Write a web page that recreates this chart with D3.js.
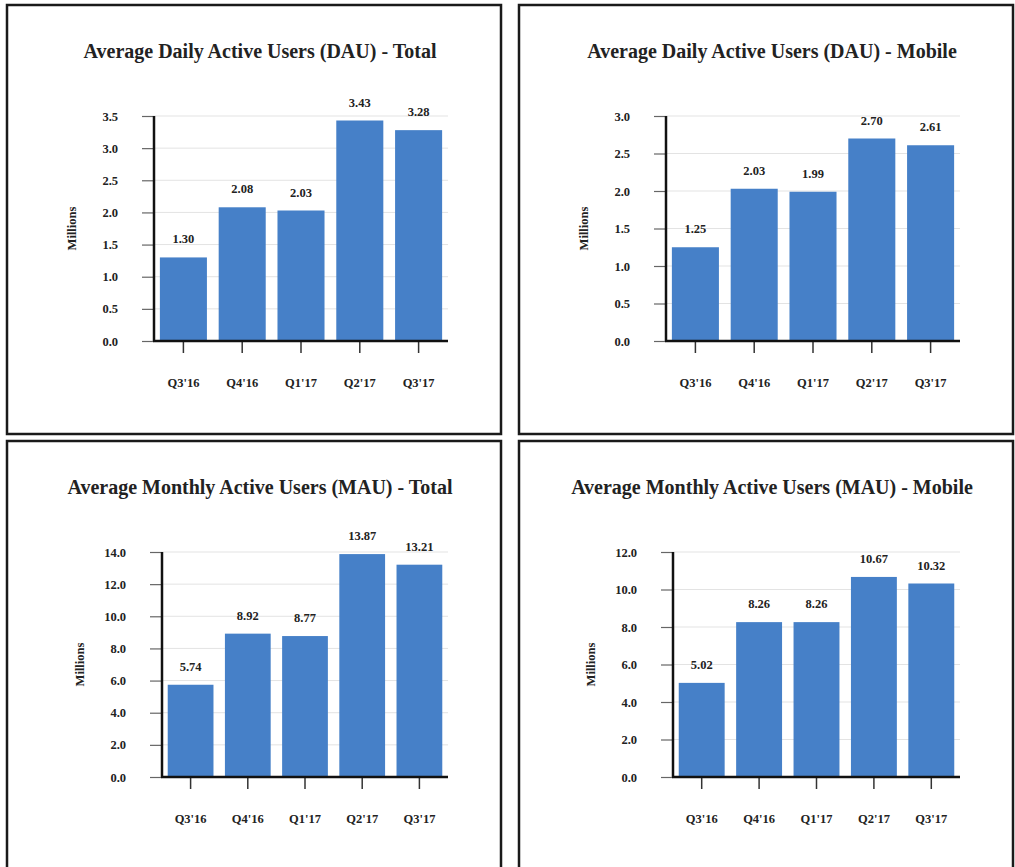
<html>
<head>
    <title>active users</title>
    <script src="https://cdn.jsdelivr.net/npm/d3@7"></script>
</head>
<body style="margin: 0; background: #fff;">
    <svg id="chart"></svg>
</body>
<script>
const width = 1015;
const height = 867;

// data
const quarters = ["Q3'16", "Q4'16", "Q1'17", "Q2'17", "Q3'17"];
const dauTotal = [1.30, 2.08, 2.03, 3.43, 3.28];
const dauMobile = [1.25, 2.03, 1.99, 2.70, 2.61];
const mauTotal = [5.74, 8.92, 8.77, 13.87, 13.21];
const mauMobile = [5.02, 8.26, 8.26, 10.67, 10.32];
const titles = [
    "Average Daily Active Users (DAU) - Total",
    "Average Daily Active Users (DAU) - Mobile",
    "Average Monthly Active Users (MAU) - Total",
    "Average Monthly Active Users (MAU) - Mobile",
];
const yTicks = [
    [0, 0.5, 1.0, 1.5, 2.0, 2.5, 3.0, 3.5],
    [0, 0.5, 1.0, 1.5, 2.0, 2.5, 3.0],
    [0, 2, 4, 6, 8, 10, 12, 14],
    [0, 2, 4, 6, 8, 10, 12],
];
const yLabel = "Millions";
const series = [dauTotal, dauMobile, mauTotal, mauMobile];

// panel layout: origin + inner left edge of plot
const panels = [
    {x: 7, y: 5, h: 429, left: 147},
    {x: 519, y: 5, h: 429, left: 147},
    {x: 7, y: 441, h: 440, left: 155},
    {x: 519, y: 441, h: 440, left: 154},
];
const pw = 494;
const plotTop = 111, plotBottom = 336, plotRight = 441;
const font = "'Liberation Serif', 'Times New Roman', serif";
const blue = "#4680c8";

const svg = d3.select("#chart")
    .attr("width", width)
    .attr("height", height)
    .style("font-family", font);

panels.forEach((p, i) => {
    const g = svg.append("g").attr("transform", `translate(${p.x},${p.y})`);
    const vals = series[i];
    const ticks = yTicks[i];

    const x = d3.scaleBand()
        .domain(quarters)
        .range([p.left, plotRight])
        .paddingInner(0.2)
        .paddingOuter(0.1);
    const y = d3.scaleLinear()
        .domain([0, ticks[ticks.length - 1]])
        .range([plotBottom, plotTop]);

    g.append("rect")
        .attr("x", 0).attr("y", 0)
        .attr("width", pw).attr("height", p.h)
        .attr("fill", "#fff")
        .attr("stroke", "#1a1a1a")
        .attr("stroke-width", 2.5);

    g.append("text")
        .attr("x", 253).attr("y", 53)
        .attr("text-anchor", "middle")
        .attr("font-size", 20)
        .attr("font-weight", "bold")
        .attr("fill", "#222")
        .text(titles[i]);

    // grid lines
    g.append("g")
        .selectAll("line")
        .data(ticks.slice(1))
        .join("line")
            .attr("x1", p.left).attr("x2", plotRight)
            .attr("y1", d => y(d)).attr("y2", d => y(d))
            .attr("stroke", "#e3e3e3")
            .attr("stroke-width", 1);

    // y axis with outward ticks
    const yAxis = g.append("g")
        .attr("transform", `translate(${p.left},0)`)
        .call(d3.axisLeft(y).tickValues(ticks).tickFormat(d3.format(".1f")).tickSize(12).tickPadding(24));
    yAxis.select(".domain").remove();
    yAxis.selectAll(".tick line").attr("stroke", "#666").attr("stroke-width", 1.2);
    yAxis.selectAll(".tick text")
        .attr("font-family", font)
        .attr("font-size", 12.5)
        .attr("font-weight", "bold")
        .attr("fill", "#222");

    g.selectAll(".bar")
        .data(vals)
        .join("rect")
            .attr("class", "bar")
            .attr("x", (d, j) => x(quarters[j]))
            .attr("y", d => y(d))
            .attr("width", x.bandwidth())
            .attr("height", d => y(0) - y(d))
            .attr("fill", blue);

    g.selectAll(".val")
        .data(vals)
        .join("text")
            .attr("class", "val")
            .attr("x", (d, j) => x(quarters[j]) + x.bandwidth() / 2)
            .attr("y", d => y(d) - 14)
            .attr("text-anchor", "middle")
            .attr("font-size", 12.5)
            .attr("font-weight", "bold")
            .attr("fill", "#222")
            .text(d => d3.format(".2f")(d));

    // x axis
    const xAxis = g.append("g")
        .attr("transform", `translate(0,${plotBottom})`)
        .call(d3.axisBottom(x).tickSize(12).tickPadding(25));
    xAxis.select(".domain").remove();
    xAxis.selectAll(".tick line").attr("stroke", "#333").attr("stroke-width", 1.5);
    xAxis.selectAll(".tick text")
        .attr("font-family", font)
        .attr("font-size", 12.5)
        .attr("font-weight", "bold")
        .attr("fill", "#222");

    g.append("line")
        .attr("x1", p.left - 1).attr("x2", plotRight)
        .attr("y1", plotBottom).attr("y2", plotBottom)
        .attr("stroke", "#111").attr("stroke-width", 2.5);
    g.append("line")
        .attr("x1", p.left).attr("x2", p.left)
        .attr("y1", plotTop).attr("y2", plotBottom)
        .attr("stroke", "#111").attr("stroke-width", 2.5);

    g.append("text")
        .attr("transform", `translate(${p.left - 78},${(plotTop + plotBottom) / 2}) rotate(-90)`)
        .attr("text-anchor", "middle")
        .attr("font-size", 12.5)
        .attr("font-weight", "bold")
        .attr("fill", "#222")
        .text(yLabel);
});
</script>
</html>
